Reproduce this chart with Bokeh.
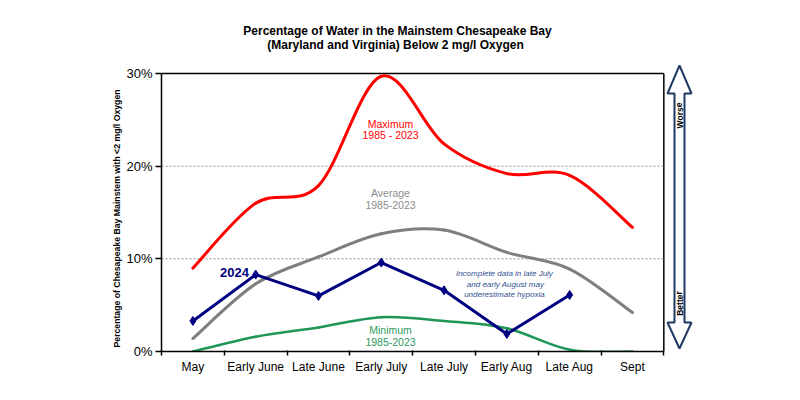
from bokeh.plotting import figure
from bokeh.models import Range1d, FixedTicker, Label, Title
from bokeh.embed import file_html
from bokeh.resources import INLINE

# ---------------- data ----------------
categories = ["May", "Early June", "Late June", "Early July", "Late July",
              "Early Aug", "Late Aug", "Sept"]
maximum = [9.0, 16.0, 17.9, 29.7, 22.4, 19.2, 19.0, 13.4]
average = [1.4, 7.3, 10.2, 12.7, 13.1, 10.7, 8.9, 4.2]
minimum = [0.0, 1.6, 2.6, 3.7, 3.3, 2.5, 0.2, 0.0]
y2024 = [3.3, 8.3, 6.0, 9.6, 6.6, 1.9, 6.1]
y_ticks = [0, 10, 20, 30]
y_tick_labels = ["0%", "10%", "20%", "30%"]

FONT = "Liberation Sans"
NAVY = "#000080"

xc = [i + 0.5 for i in range(len(categories))]
n_cat = len(categories)

SX = 540 / 8.6          # px per x unit
SY = 278 / 30           # px per y unit
FRAME_L, FRAME_T, FRAME_R, FRAME_B = 161, 15, 701, 351

p = figure(width=784, height=384, output_backend="svg", toolbar_location=None,
           x_range=Range1d(0, (FRAME_R - FRAME_L) / SX),
           y_range=Range1d(0, (FRAME_B - FRAME_T) / SY),
           min_border_left=FRAME_L, min_border_right=784 - FRAME_R,
           min_border_top=FRAME_T, min_border_bottom=384 - FRAME_B)
p.outline_line_color = None
p.background_fill_color = "white"
p.border_fill_color = "white"
p.xgrid.grid_line_color = None
p.ygrid.grid_line_color = None

def px2x(px):
    return (px - FRAME_L) / SX

def px2y(py):
    return (FRAME_B - py) / SY

# axes
p.xaxis.ticker = FixedTicker(ticks=xc, minor_ticks=list(range(n_cat + 1)))
p.xaxis.major_label_overrides = {x: c for x, c in zip(xc, categories)}
p.xaxis.bounds = (0, n_cat)
p.xaxis.major_tick_out = 0
p.xaxis.major_tick_in = 0
p.xaxis.minor_tick_out = 4
p.xaxis.minor_tick_in = 1
p.xaxis.minor_tick_line_color = "black"
p.xaxis.minor_tick_line_width = 1.5
p.xaxis.major_label_standoff = 4
p.xaxis.major_label_text_font = FONT
p.xaxis.major_label_text_font_size = "12px"
p.xaxis.major_label_text_color = "black"
p.xaxis.axis_line_width = 1.5
p.xaxis.axis_line_color = "black"

p.yaxis.ticker = FixedTicker(ticks=y_ticks, minor_ticks=[])
p.yaxis.major_label_overrides = {t: l for t, l in zip(y_ticks, y_tick_labels)}
p.yaxis.bounds = (0, 30)
p.yaxis.major_tick_out = 6
p.yaxis.major_tick_in = 0
p.yaxis.major_tick_line_width = 1.5
p.yaxis.major_label_standoff = 3
p.yaxis.major_label_text_font = FONT
p.yaxis.major_label_text_font_size = "13px"
p.yaxis.major_label_text_color = "black"
p.yaxis.axis_line_width = 1.5
p.yaxis.axis_line_color = "black"

# vertical y-axis title, placed in the left side panel
p.add_layout(Title(text="Percentage of Chesapeake Bay Mainstem with <2 mg/l Oxygen",
                   align="left", offset=4, standoff=4,
                   text_font=FONT, text_font_size="8.7px",
                   text_font_style="bold", text_color="black"), "left")

# box top/right edges and dotted grid lines
p.segment(x0=[0, n_cat], y0=[y_ticks[-1], 0], x1=[n_cat, n_cat],
          y1=[y_ticks[-1], y_ticks[-1]], line_color="black", line_width=1.5)
inner = y_ticks[1:-1]
p.segment(x0=[0] * len(inner), x1=[n_cat] * len(inner), y0=inner, y1=inner,
          line_color="#8c8c8c", line_width=1, line_dash="2 2")

# smoothed (Excel-like Catmull-Rom) bezier curves through the data values
def smooth(vals, color, width):
    xs, ys = xc[:len(vals)], vals
    n = len(vals)
    x0, y0, x1, y1, cx0, cy0, cx1, cy1 = [], [], [], [], [], [], [], []
    for i in range(n - 1):
        im, ip = max(i - 1, 0), min(i + 2, n - 1)
        x0.append(xs[i]); y0.append(ys[i])
        x1.append(xs[i + 1]); y1.append(ys[i + 1])
        cx0.append(xs[i] + (xs[i + 1] - xs[im]) / 6)
        cy0.append(ys[i] + (ys[i + 1] - ys[im]) / 6)
        cx1.append(xs[i + 1] - (xs[ip] - xs[i]) / 6)
        cy1.append(ys[i + 1] - (ys[ip] - ys[i]) / 6)
    p.bezier(x0=x0, y0=y0, x1=x1, y1=y1, cx0=cx0, cy0=cy0, cx1=cx1, cy1=cy1,
             line_color=color, line_width=width, line_cap="round")

smooth(maximum, "#ff0000", 3)
smooth(average, "#7f7f7f", 3)
smooth(minimum, "#1e9656", 2.5)

p.line(xc[:len(y2024)], y2024, line_color=NAVY, line_width=3)
p.scatter(xc[:len(y2024)], y2024, marker="diamond", size=9,
          fill_color=NAVY, line_color=NAVY)

# text annotations
def note(lines, cx, ys, color, size, style="normal", angle=0.0):
    for t, yy in zip(lines, ys):
        p.add_layout(Label(x=px2x(cx), y=px2y(yy), text=t, text_align="center",
                           text_baseline="middle", text_color=color,
                           text_font=FONT, text_font_size=size,
                           text_font_style=style, angle=angle))

note(["Maximum", "1985 - 2023"], 390, [123, 134], "#ff0000", "10.5px")
note(["Average", "1985-2023"], 390, [192.5, 204], "#8c8c8c", "10.5px")
note(["Minimum", "1985-2023"], 390, [329.5, 341], "#2e9b5e", "10.5px")
note(["2024"], 234, [272], NAVY, "13px", "bold")
note(["Incomplete  data in late July", "and early August may",
      "underestimate  hypoxia"], 505, [273, 283.5, 294], "#2f4f8f", "8px",
     "italic")

# title (two lines)
note(["Percentage of Water in the Mainstem Chesapeake Bay"], 397, [30],
     "black", "12px", "bold")
note(["(Maryland and Virginia) Below 2 mg/l Oxygen"], 395, [44.5],
     "black", "12px", "bold")

# double-headed arrow on the right
ax_px = [679, 691, 684, 684, 691, 679, 667, 674, 674, 667]
ay_px = [65, 93, 93, 322, 322, 348, 322, 322, 93, 93]
p.patch([px2x(v) for v in ax_px], [px2y(v) for v in ay_px],
        fill_color="white", line_color="#1f3864", line_width=2)
note(["Worse"], 679, [115], "black", "8.5px", "bold", angle=1.5708)
note(["Better"], 679, [303], "black", "8.5px", "bold", angle=1.5708)

open("out.html", "w").write(file_html(p, INLINE))
